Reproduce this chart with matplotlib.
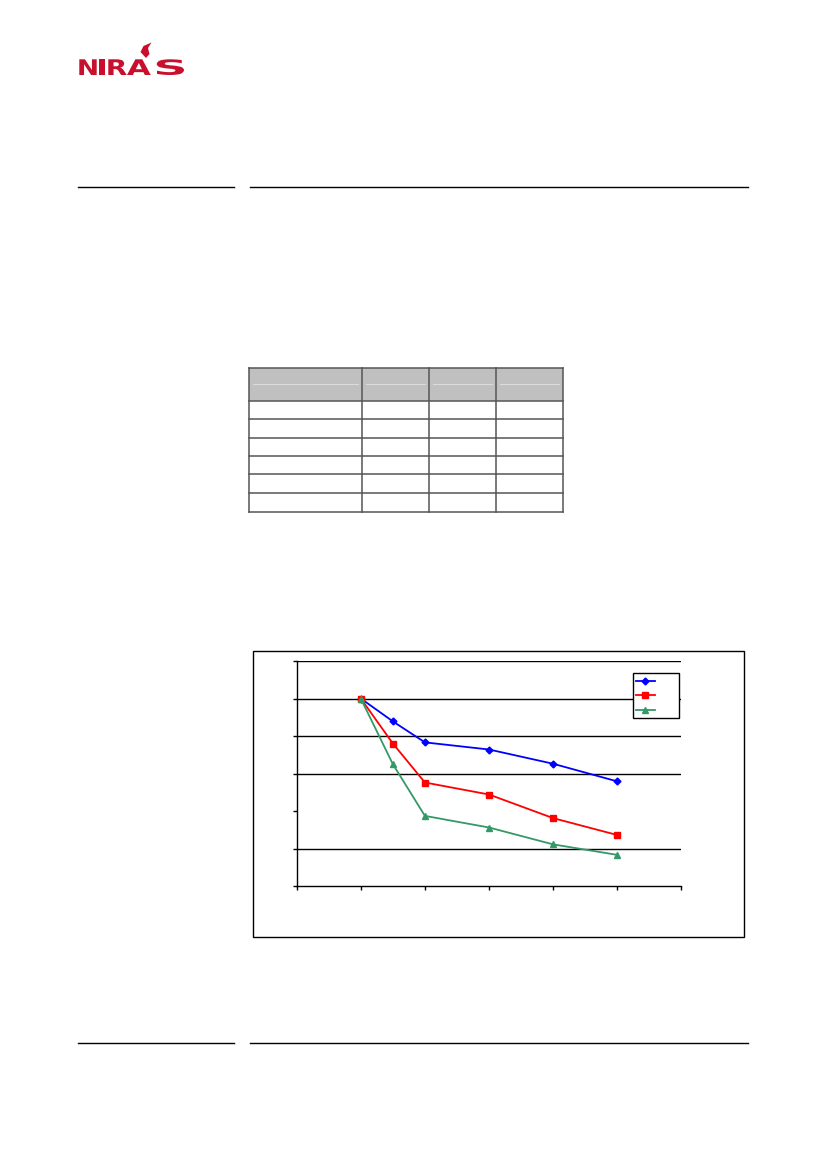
import matplotlib
matplotlib.use('Agg')
import matplotlib.pyplot as plt
from matplotlib.patches import Rectangle, Polygon, PathPatch
from matplotlib.textpath import TextPath
from matplotlib.font_manager import FontProperties
from matplotlib.transforms import Affine2D

# chart data (no labels visible)
x_vals = [1, 1.5, 2, 3, 4, 5]
blue_vals = [5.0, 4.39, 3.83, 3.64, 3.26, 2.79]
red_vals = [5.0, 3.80, 2.76, 2.44, 1.81, 1.36]
green_vals = [5.0, 3.25, 1.87, 1.56, 1.11, 0.83]
grid_levels = [1, 3, 4, 5, 6]   # the level 2 line is missing in the original

# table layout (empty cells)
col_edges = [249.3, 362.3, 428.7, 495.7, 562.7]
row_edges = [368.3, 400.7, 419.3, 437.7, 456.0, 474.3, 492.7, 511.7]

W, H = 827, 1169
fig = plt.figure(figsize=(W / 100, H / 100), dpi=100)

# page axes in pixel coordinates
page = fig.add_axes([0, 0, 1, 1])
page.set_xlim(0, W)
page.set_ylim(H, 0)
page.axis('off')

# logo, each letter stretched into its box
niras_red = '#C8102E'
fp = FontProperties(family='DejaVu Sans', weight='bold')
letter_boxes = [(79.3, 96.7), (99.3, 105), (108.3, 126.7), (127, 150.7), (156.7, 184)]
cap_top, cap_bot = 59.3, 75
for ch, (x0, x1) in zip('NIRAS', letter_boxes):
    tp = TextPath((0, 0), ch, size=1, prop=fp)
    ext = tp.get_extents()
    sx = (x1 - x0) / ext.width
    sy = (cap_bot - cap_top) / ext.height
    tr = Affine2D().translate(-ext.x0, -ext.y0).scale(sx, -sy).translate(x0, cap_bot)
    page.add_patch(PathPatch(tr.transform_path(tp), color=niras_red, lw=0))
page.add_patch(Polygon([[146, 58], [140.5, 52], [143.5, 46], [151.5, 42.5], [148, 48], [149.5, 54]],
                       closed=True, color=niras_red, lw=0))

# header / footer rules
for yy in [187.3, 1043.3]:
    page.plot([78.3, 234.3], [yy, yy], color='black', lw=1.0)
    page.plot([250, 748], [yy, yy], color='black', lw=1.0)

# table
page.add_patch(Rectangle((col_edges[0], row_edges[0]), col_edges[-1] - col_edges[0],
                         row_edges[1] - row_edges[0], facecolor='#C0C0C0', edgecolor='none'))
for i in range(len(col_edges) - 1):
    x0, x1 = col_edges[i] + 4, col_edges[i + 1] - 4
    page.plot([x0, x1], [384.3, 384.3], color='#DDDDDD', lw=0.7)
for yy in row_edges:
    page.plot([col_edges[0], col_edges[-1]], [yy, yy], color='#555555', lw=1.1)
for xx in col_edges:
    page.plot([xx, xx], [row_edges[0], row_edges[-1]], color='#555555', lw=1.1)

# chart frame
page.add_patch(Rectangle((253.3, 651), 491, 285.7, facecolor='none', edgecolor='black', lw=1.0))

# chart axes
left, right, top, bottom = 296.7, 681.3, 661, 886
ax = fig.add_axes([left / W, 1 - bottom / H, (right - left) / W, (bottom - top) / H])
ax.set_xlim(0, 6)
ax.set_ylim(0, 6)
ax.patch.set_alpha(0)
for lvl in grid_levels:
    ax.axhline(lvl, color='black', lw=1.0, zorder=1)
ax.spines['top'].set_visible(False)
ax.spines['right'].set_visible(False)
ax.spines['left'].set_linewidth(1.0)
ax.spines['bottom'].set_linewidth(1.0)
ax.set_xticks(range(7))
ax.set_yticks(range(7))
ax.tick_params(direction='out', length=3, width=1.0, labelbottom=False, labelleft=False)

l1, = ax.plot(x_vals, blue_vals, color='#0000FF', lw=1.3, marker='D', ms=3.5, zorder=3)
l2, = ax.plot(x_vals, red_vals, color='#FF0000', lw=1.3, marker='s', ms=4, zorder=3)
l3, = ax.plot(x_vals, green_vals, color='#339966', lw=1.3, marker='^', ms=4, zorder=3)

leg = ax.legend([l1, l2, l3], ['', '', ''], loc='upper left',
                bbox_to_anchor=(633.3 / W, 1 - 673.3 / H), bbox_transform=fig.transFigure,
                borderaxespad=0, fancybox=False, framealpha=1, edgecolor='black',
                fontsize=7, handlelength=1.9, handletextpad=2.2, labelspacing=0.45,
                borderpad=0.3)
leg.get_frame().set_linewidth(1.0)
leg.set_zorder(5)

fig.savefig('out.png', dpi=100)
